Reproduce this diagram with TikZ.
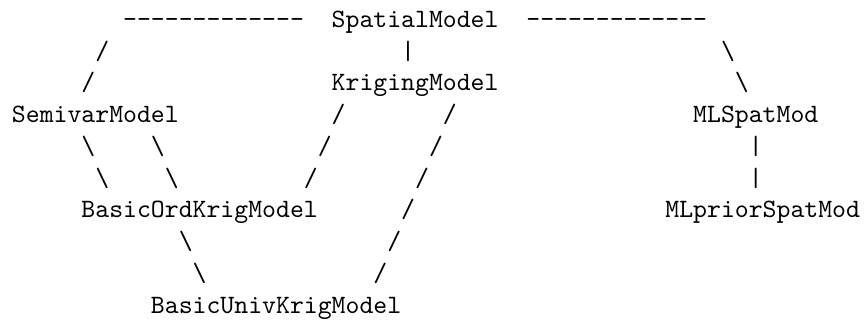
\documentclass[tikz,border=0pt]{standalone}
\begin{document}
\begin{tikzpicture}[
  x=5.25pt, y=12pt,
  word/.style={anchor=base west, inner sep=0pt, outer sep=0pt, font=\ttfamily},
  glyph/.style={anchor=base west, inner sep=0pt, outer sep=0pt, font=\ttfamily}
]
\useasboundingbox (-0.86,-9.21) rectangle (61.43,0.86);

% class names, placed on a character grid (column, -line)
\node[word] (spatial)  at (23,0) {SpatialModel};
\node[word] (kriging)  at (23,-2) {KrigingModel};
\node[word] (semivar)  at (0,-3) {SemivarModel};
\node[word] (mlspat)   at (49,-3) {MLSpatMod};
\node[word] (basicord) at (5,-6) {BasicOrdKrigModel};
\node[word] (mlprior)  at (47,-6) {MLpriorSpatMod};
\node[word] (basicuni) at (10,-9) {BasicUnivKrigModel};

% dashed runs on either side of SpatialModel
\foreach \c in {8,...,20} \node[glyph] (dl\c) at (\c,0) {-};
\foreach \c in {37,...,49} \node[glyph] (dr\c) at (\c,0) {-};

% SpatialModel -> SemivarModel / KrigingModel / MLSpatMod
\node[glyph] (s1) at (6,-1) {/};
\node[glyph] (s2) at (5,-2) {/};
\node[glyph] (v1) at (28,-1) {|};
\node[glyph] (b1) at (51,-1) {\textbackslash};
\node[glyph] (b2) at (52,-2) {\textbackslash};

% KrigingModel -> BasicOrdKrigModel
\node[glyph] (k1) at (23,-3) {/};
\node[glyph] (k2) at (22,-4) {/};
\node[glyph] (k3) at (21,-5) {/};

% KrigingModel -> BasicUnivKrigModel
\node[glyph] (u1) at (31,-3) {/};
\node[glyph] (u2) at (30,-4) {/};
\node[glyph] (u3) at (29,-5) {/};
\node[glyph] (u4) at (28,-6) {/};
\node[glyph] (u5) at (27,-7) {/};
\node[glyph] (u6) at (26,-8) {/};

% SemivarModel -> BasicOrdKrigModel (two strands)
\node[glyph] (o1) at (5,-4) {\textbackslash};
\node[glyph] (o2) at (6,-5) {\textbackslash};
\node[glyph] (o3) at (10,-4) {\textbackslash};
\node[glyph] (o4) at (11,-5) {\textbackslash};

% BasicOrdKrigModel -> BasicUnivKrigModel
\node[glyph] (w1) at (12,-7) {\textbackslash};
\node[glyph] (w2) at (13,-8) {\textbackslash};

% MLSpatMod -> MLpriorSpatMod
\node[glyph] (m1) at (53,-4) {|};
\node[glyph] (m2) at (53,-5) {|};
\end{tikzpicture}
\end{document}
